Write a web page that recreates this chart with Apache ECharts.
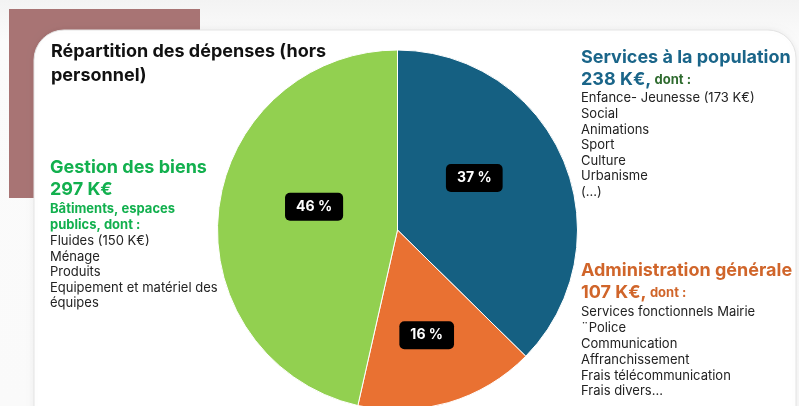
<!DOCTYPE html>
<html>
<head>
<meta charset="utf-8">
<script src="https://cdn.jsdelivr.net/npm/echarts@6/dist/echarts.min.js"></script>
<style>
html,body{margin:0;padding:0;background:#fff;}
#chart{width:799px;height:406px;}
</style>
</head>
<body>
<div id="chart"></div>
<script>
// ---- data ----
const categories = ['Services à la population', 'Administration générale', 'Gestion des biens'];
const shares = [37, 16, 46];            // % shown on the slices
const amounts = ['238 K€', '107 K€', '297 K€'];
const titleLines = ['Répartition des dépenses (hors', 'personnel)'];
const servicesDetails = ['Enfance- Jeunesse (173 K€)', 'Social', 'Animations', 'Sport', 'Culture', 'Urbanisme', '(...)'];
const adminDetails = ['Services fonctionnels Mairie', '¨Police', 'Communication', 'Affranchissement', 'Frais télécommunication', 'Frais divers...'];
const biensSubtitle = ['Bâtiments, espaces', 'publics, dont :'];
const biensDetails = ['Fluides (150 K€)', 'Ménage', 'Produits', 'Equipement et matériel des', 'équipes'];

// ---- styles ----
const sliceColors = ['#156082', '#E97132', '#92D050'];
const FONT = 'Inter, "Noto Sans", sans-serif';
const labelShift = [[-9, -16], [3, 16], [9, -13]];

function textLines(lines, x, y0, step, style) {
  return lines.map((t, i) => ({
    type: 'text', left: x, top: y0 + i * step, z: 10,
    style: Object.assign({ text: t, font: '13px ' + FONT, fill: '#222' }, style || {})
  }));
}

const chart = echarts.init(document.getElementById('chart'), null, { renderer: 'canvas' });

const graphics = [
  { type: 'rect', shape: { x: 0, y: 0, width: 799, height: 406 }, z: -10,
    style: { fill: new echarts.graphic.LinearGradient(0, 0, 0, 1, [
      { offset: 0, color: '#f3f3f3' }, { offset: 0.1, color: '#fbfbfb' }, { offset: 1, color: '#fafafa' }]) } },
  { type: 'rect', shape: { x: 9, y: 9, width: 191, height: 189 }, z: -9, style: { fill: '#a87474' } },
  { type: 'rect', shape: { x: 34, y: 30, width: 762, height: 420, r: [30, 28, 30, 30] }, z: -8,
    style: { fill: '#ffffff', stroke: '#e4e4e4', lineWidth: 1, shadowBlur: 6, shadowColor: 'rgba(0,0,0,0.06)' } },
  // title
  ...textLines(titleLines, 51, 43, 24, { font: 'bold 18px ' + FONT, fill: '#111' }),
  // services block
  { type: 'text', left: 581, top: 49, z: 10, style: { text: categories[0], font: 'bold 18px ' + FONT, fill: '#1a6589' } },
  { type: 'text', left: 581, top: 71, z: 10, style: {
      text: '{a|' + amounts[0] + ',} {b|dont :}',
      rich: { a: { font: 'bold 18px ' + FONT, fill: '#1a6589' },
              b: { font: 'bold 13px ' + FONT, fill: '#2f6b2f' } } } },
  ...textLines(servicesDetails, 581, 92, 15.6),
  // admin block
  { type: 'text', left: 581, top: 262, z: 10, style: { text: categories[1], font: 'bold 18px ' + FONT, fill: '#d0652a' } },
  { type: 'text', left: 581, top: 284, z: 10, style: {
      text: '{a|' + amounts[1] + ',} {b|dont :}',
      rich: { a: { font: 'bold 18px ' + FONT, fill: '#d0652a' },
              b: { font: 'bold 13px ' + FONT, fill: '#d0652a' } } } },
  ...textLines(adminDetails, 581, 306, 15.8),
  // biens block
  { type: 'text', left: 50, top: 159, z: 10, style: { text: categories[2], font: 'bold 18px ' + FONT, fill: '#12b04e' } },
  { type: 'text', left: 50, top: 181, z: 10, style: { text: amounts[2], font: 'bold 18px ' + FONT, fill: '#12b04e' } },
  ...textLines(biensSubtitle, 50, 203, 16, { font: 'bold 13px ' + FONT, fill: '#12b04e' }),
  ...textLines(biensDetails, 50, 235, 15.4)
];

chart.setOption({
  animation: false,
  graphic: graphics,
  series: [{
    type: 'pie',
    center: [397.5, 230],
    radius: 180,
    startAngle: 90,
    clockwise: true,
    z: 5,
    data: categories.map((c, i) => ({ name: c, value: shares[i], itemStyle: { color: sliceColors[i] } })),
    itemStyle: { borderColor: '#ffffff', borderWidth: 1 },
    label: {
      show: true, position: 'inside',
      formatter: p => p.value + ' %',
      color: '#fff', fontFamily: FONT, fontSize: 14, fontWeight: 'bold',
      backgroundColor: '#000', borderRadius: 5, padding: [7, 11]
    },
    labelLayout: p => ({ dx: labelShift[p.dataIndex][0], dy: labelShift[p.dataIndex][1] }),
    labelLine: { show: false },
    emphasis: { disabled: true }
  }]
});
</script>
</body>
</html>
